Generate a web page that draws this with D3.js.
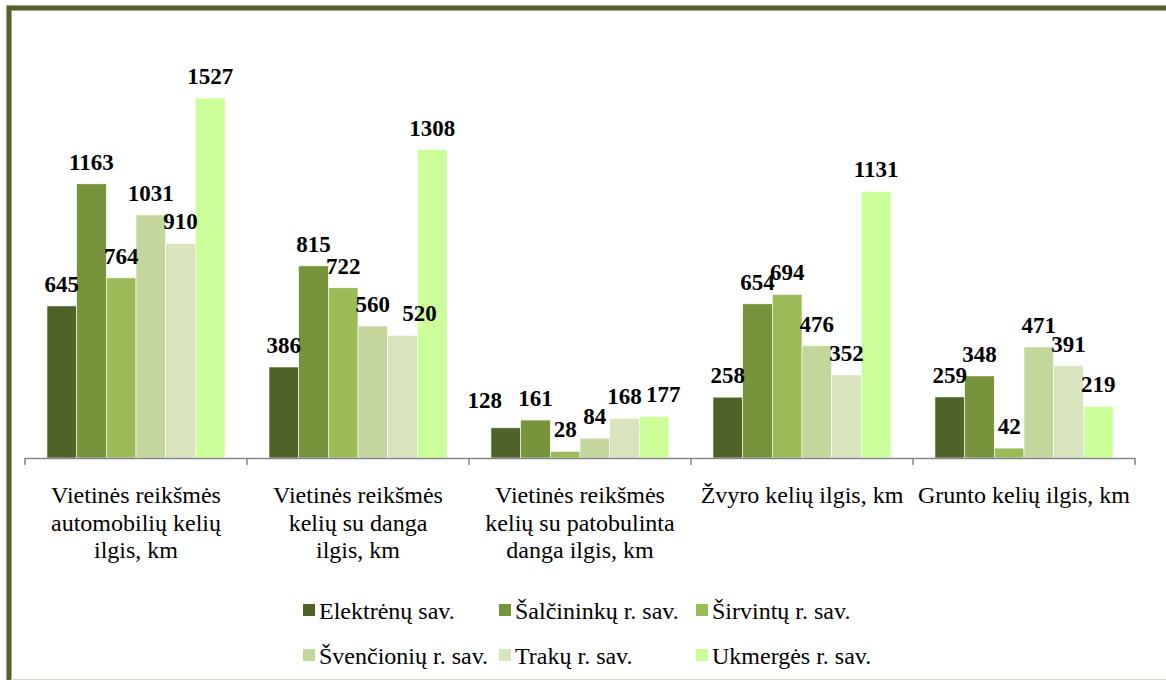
<!DOCTYPE html>
<html>
<head>
<meta charset="utf-8">
<script src="https://cdn.jsdelivr.net/npm/d3@7"></script>
<style>
  body { margin: 0; background: #fff; }
  svg text { font-family: "Liberation Serif", "Times New Roman", serif; }
</style>
</head>
<body>
<div id="d3"></div>
<script>
// categories (each one split into lines as in the picture)
var categories = [
  ["Vietinės reikšmės", "automobilių kelių", "ilgis, km"],
  ["Vietinės reikšmės", "kelių su danga", "ilgis, km"],
  ["Vietinės reikšmės", "kelių su patobulinta", "danga ilgis, km"],
  ["Žvyro kelių ilgis, km"],
  ["Grunto kelių ilgis, km"]
];
var series = ["Elektrėnų sav.", "Šalčininkų r. sav.", "Širvintų r. sav.",
              "Švenčionių r. sav.", "Trakų r. sav.", "Ukmergės r. sav."];
var colors = ["#4F6228", "#77933C", "#9BBB59", "#C3D69B", "#D7E4BD", "#CCFF99"];

var elektrenai  = [645, 386, 128, 258, 259];
var salcininkai = [1163, 815, 161, 654, 348];
var sirvintos   = [764, 722, 28, 694, 42];
var svencionys  = [1031, 560, 84, 476, 471];
var trakai      = [910, 520, 168, 352, 391];
var ukmerge     = [1527, 1308, 177, 1131, 219];
var values = [elektrenai, salcininkai, sirvintos, svencionys, trakai, ukmerge];

// a few labels were moved by hand in the original ("category-series": [dx, dy])
var nudge = { "1-4": [17, 0], "2-0": [-21, -6], "2-5": [9, 0] };

var W = 1166, H = 680;

var svg = d3.select("#d3")
  .append("svg")
  .attr("width", W)
  .attr("height", H);

// frame (cut off on the right, as in the picture)
svg.append("rect")
  .attr("x", 9).attr("y", 8)
  .attr("width", W + 20).attr("height", H + 20)
  .attr("fill", "none")
  .attr("stroke", "#A5A58D")
  .attr("stroke-width", 6);
svg.append("rect")
  .attr("x", 9).attr("y", 8)
  .attr("width", W + 20).attr("height", H + 20)
  .attr("fill", "none")
  .attr("stroke", "#4F6228")
  .attr("stroke-width", 4);
svg.append("line")
  .attr("x1", 11).attr("x2", W)
  .attr("y1", H - 0.5).attr("y2", H - 0.5)
  .attr("stroke", "#D8D8CC");

var x0 = d3.scaleBand()
  .domain(d3.range(categories.length))
  .range([25, 1135])
  .padding(0);

var x1 = d3.scaleBand()
  .domain(d3.range(series.length))
  .range([0, x0.bandwidth()])
  .paddingInner(0)
  .paddingOuter(0.74);

var y = d3.scaleLinear()
  .domain([0, 1800])
  .range([458, 458 - 1800 * 360 / 1527]);

// bars
var groups = svg.append("g")
  .selectAll("g")
  .data(categories)
  .join("g")
  .attr("transform", function(d, i) { return "translate(" + x0(i) + ",0)"; });

function cells(d, i) {
  return values.map(function(s, j) { return {c: i, s: j, v: s[i]}; });
}

groups.selectAll("rect")
  .data(cells)
  .join("rect")
  .attr("x", function(d) { return x1(d.s); })
  .attr("y", function(d) { return y(d.v); })
  .attr("width", x1.bandwidth())
  .attr("height", function(d) { return y(0) - y(d.v); })
  .attr("fill", function(d) { return colors[d.s]; })
  .attr("stroke", "#fff")
  .attr("stroke-width", 0.6);

groups.selectAll("text")
  .data(cells)
  .join("text")
  .attr("x", function(d) {
    var n = nudge[d.c + "-" + d.s] || [0, 0];
    return x1(d.s) + x1.bandwidth() / 2 + n[0];
  })
  .attr("y", function(d) {
    var n = nudge[d.c + "-" + d.s] || [0, 0];
    return y(d.v) - 14 + n[1];
  })
  .attr("text-anchor", "middle")
  .style("font-size", "23px")
  .style("font-weight", "bold")
  .attr("fill", "#000")
  .text(function(d) { return d.v; });

// axis with ticks at category boundaries
var axis = svg.append("g").attr("class", "axis");
axis.append("line")
  .attr("x1", x0.range()[0]).attr("x2", x0.range()[1])
  .attr("y1", y(0) + 0.5).attr("y2", y(0) + 0.5)
  .attr("stroke", "#868686").attr("stroke-width", 1.5);
axis.selectAll(".tick")
  .data(d3.range(categories.length + 1))
  .join("line")
  .attr("class", "tick")
  .attr("x1", function(i) { return x0.range()[0] + i * x0.step(); })
  .attr("x2", function(i) { return x0.range()[0] + i * x0.step(); })
  .attr("y1", y(0)).attr("y2", y(0) + 7)
  .attr("stroke", "#868686").attr("stroke-width", 1.5);

// category labels
svg.append("g")
  .selectAll("text")
  .data(categories)
  .join("text")
  .attr("x", function(d, i) { return x0(i) + x0.bandwidth() / 2; })
  .attr("y", 503)
  .attr("text-anchor", "middle")
  .style("font-size", "24px")
  .attr("fill", "#000")
  .each(function(lines) {
    var t = d3.select(this);
    lines.forEach(function(l, k) {
      t.append("tspan")
        .attr("x", t.attr("x"))
        .attr("dy", k === 0 ? 0 : 27.5)
        .text(l);
    });
  });

// legend
var legX = [303, 499, 696], legY = [610, 655];
var legend = svg.append("g")
  .selectAll("g")
  .data(series)
  .join("g")
  .attr("transform", function(d, i) {
    return "translate(" + legX[i % 3] + "," + legY[Math.floor(i / 3)] + ")";
  });
legend.append("rect")
  .attr("x", 0).attr("y", -6)
  .attr("width", 12).attr("height", 12)
  .attr("fill", function(d, i) { return colors[i]; });
legend.append("text")
  .attr("x", 16).attr("y", 9)
  .style("font-size", "24px")
  .attr("fill", "#000")
  .text(function(d) { return d; });
</script>
</body>
</html>
